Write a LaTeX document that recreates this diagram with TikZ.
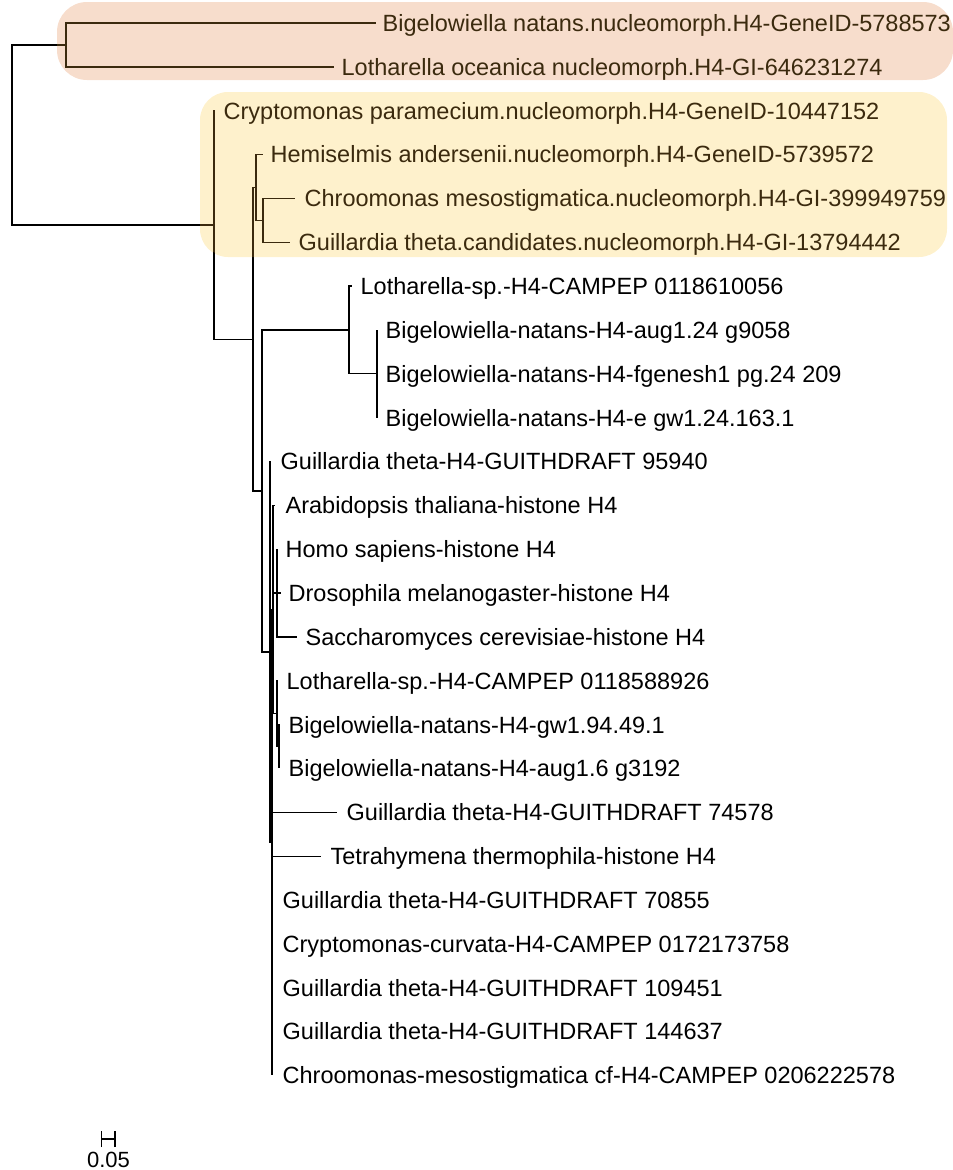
\documentclass[tikz,border=0pt]{standalone}
\usepackage{fontspec}
\setmainfont{Liberation Sans}
\definecolor{salmonbox}{HTML}{F7DDCC}
\definecolor{creambox}{HTML}{FEF1CC}
\definecolor{bark}{HTML}{3B2A0E}
\begin{document}
\begin{tikzpicture}[x=1pt, y=-1pt, font=\fontsize{23.5}{27}\selectfont, line width=1.3pt]
	\tikzset{leaf/.style={anchor=west, inner sep=0pt, text height=16.8pt, text depth=0pt}}
	\useasboundingbox (0,0) rectangle (953,1170);
	\fill[salmonbox, rounded corners=30pt] (57,2) rectangle (953,80);
	\fill[creambox, rounded corners=28pt] (200,92) rectangle (947,257);
	\foreach \i/\ex/\tx/\c/\t in {1/376/382/bark/{Bigelowiella natans.nucleomorph.H4-GeneID-5788573},
		2/334/341/bark/{Lotharella oceanica nucleomorph.H4-GI-646231274},
		3/215/223/bark/{Cryptomonas paramecium.nucleomorph.H4-GeneID-10447152},
		4/263/270/bark/{Hemiselmis andersenii.nucleomorph.H4-GeneID-5739572},
		5/295/304/bark/{Chroomonas mesostigmatica.nucleomorph.H4-GI-399949759},
		6/290/298/bark/{Guillardia theta.candidates.nucleomorph.H4-GI-13794442},
		7/352/360/black/{Lotharella-sp.-H4-CAMPEP 0118610056},
		8/377/385/black/{Bigelowiella-natans-H4-aug1.24 g9058},
		9/377/385/black/{Bigelowiella-natans-H4-fgenesh1 pg.24 209},
		10/377/385/black/{Bigelowiella-natans-H4-e gw1.24.163.1},
		11/271/280/black/{Guillardia theta-H4-GUITHDRAFT 95940},
		12/275/285/black/{Arabidopsis thaliana-histone H4},
		13/277/285/black/{Homo sapiens-histone H4},
		14/281/288/black/{Drosophila melanogaster-histone H4},
		15/297/305/black/{Saccharomyces cerevisiae-histone H4},
		16/278/286/black/{Lotharella-sp.-H4-CAMPEP 0118588926},
		17/280/288/black/{Bigelowiella-natans-H4-gw1.94.49.1},
		18/279/288/black/{Bigelowiella-natans-H4-aug1.6 g3192},
		19/337/346/black/{Guillardia theta-H4-GUITHDRAFT 74578},
		20/321/330/black/{Tetrahymena thermophila-histone H4},
		21/272/282/black/{Guillardia theta-H4-GUITHDRAFT 70855},
		22/272/282/black/{Cryptomonas-curvata-H4-CAMPEP 0172173758},
		23/272/282/black/{Guillardia theta-H4-GUITHDRAFT 109451},
		24/272/282/black/{Guillardia theta-H4-GUITHDRAFT 144637},
		25/272/282/black/{Chroomonas-mesostigmatica cf-H4-CAMPEP 0206222578}}
	{
		\coordinate (e\i) at (\ex, {23+(\i-1)*43.85});
		\node[leaf, text=\c] (t\i) at (\tx, {23+(\i-1)*43.85}) {\t};
	}
	\coordinate (root) at (12,135);
	\coordinate (nA) at (66,44.9);
	\coordinate (nB) at (214,225);
	\coordinate (nC) at (253,339.2);
	\coordinate (nD) at (256,187.4);
	\coordinate (nE) at (263,220.3);
	\coordinate (nF) at (262,491);
	\coordinate (nG) at (349,329.95);
	\coordinate (nH) at (377,373.8);
	\coordinate (nN5) at (270,652);
	\coordinate (nN6) at (272,842.4);
	\coordinate (nN7) at (273,609.5);
	\coordinate (nM) at (277,593.05);
	\coordinate (nL) at (277,713.6);
	\coordinate (nK) at (279,746.5);
	\def\edges{root/nA, root/nB, nA/e1, nA/e2, nB/e3, nB/nC, nC/nD, nC/nF, nD/e4, nD/nE, nE/e5, nE/e6,
		nF/nG, nF/nN5, nG/e7, nG/nH, nH/e8, nH/e9, nH/e10, nN5/e11, nN5/nN6, nN6/nN7, nN7/e12, nN7/nM, nN7/nL,
		nM/e13, nM/e14, nM/e15, nL/e16, nL/nK, nK/e17, nK/e18, nN6/e19, nN6/e20,
		nN6/e21, nN6/e22, nN6/e23, nN6/e24, nN6/e25}
	\foreach \p/\c in \edges {\draw (\p) |- (\c);}
	\begin{scope}
		\clip[rounded corners=30pt] (57,2) rectangle (953,80) (200,92) rectangle (947,257);
		\foreach \p/\c in \edges {\draw[bark] (\p) |- (\c);}
	\end{scope}
	\coordinate (sbl) at (101.5,1139);
	\coordinate (sbr) at (115,1139);
	\draw[line width=1.4pt] (sbl) -- (sbr);
	\draw[line width=1.4pt] ([yshift=-8pt]sbl) -- ([yshift=8pt]sbl);
	\draw[line width=1.4pt] ([yshift=-8pt]sbr) -- ([yshift=8pt]sbr);
	\node[font=\fontsize{22}{25}\selectfont, inner sep=0pt] (sblabel) at (108.5,1160) {0.05};
\end{tikzpicture}
\end{document}
